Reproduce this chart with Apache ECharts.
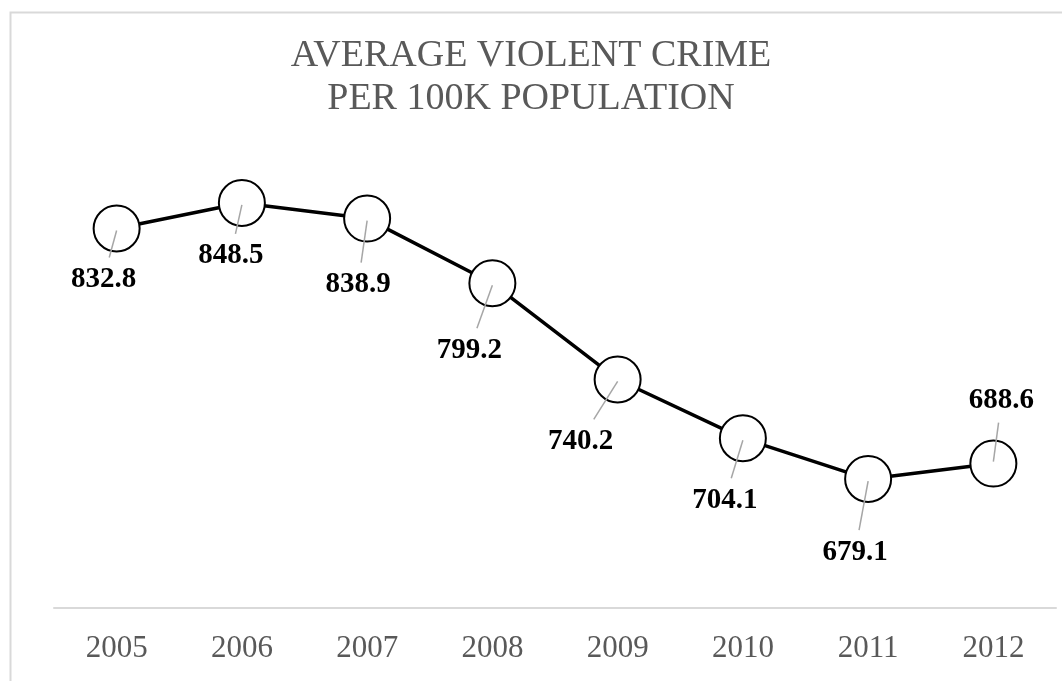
<!DOCTYPE html>
<html>
<head>
<meta charset="utf-8">
<style>
  html, body { margin: 0; padding: 0; background: #fff; }
  #container { width: 1062px; height: 681px; }
</style>
<script src="https://cdn.jsdelivr.net/npm/echarts@6/dist/echarts.min.js"></script>
</head>
<body>
<div id="container"></div>
<script>
var years = ["2005", "2006", "2007", "2008", "2009", "2010", "2011", "2012"];
var crimeRate = [832.8, 848.5, 838.9, 799.2, 740.2, 704.1, 679.1, 688.6];
// where each value label sits, relative to its marker
var labelShift = [[-13, 51], [-11, 53], [-9, 66], [-23, 67], [-37, 62], [-18, 62], [-13, 73], [8, -63]];

var serif = "'Liberation Serif', 'Times New Roman', serif";

var dom = document.getElementById("container");
var myChart = echarts.init(dom, null, { renderer: "canvas" });

// gray leader line from the marker centre towards its label
function renderLeader(params, api) {
    var c = api.coord([api.value(0), api.value(1)]);
    var s = labelShift[params.dataIndex];
    var k = 1 - 22 / Math.abs(s[1]);
    return {
        type: "line",
        shape: { x1: c[0], y1: c[1] + 2 * Math.sign(s[1]), x2: c[0] + s[0] * k, y2: c[1] + s[1] * k },
        style: { stroke: "#a6a6a6", lineWidth: 1.5 }
    };
}

var option = {
    animation: false,
    title: {
        text: "AVERAGE VIOLENT CRIME\nPER 100K POPULATION",
        left: "center",
        top: 30,
        textStyle: {
            fontFamily: serif,
            fontSize: 38,
            fontWeight: "normal",
            color: "#595959",
            lineHeight: 43
        }
    },
    graphic: [
        {
            type: "rect",
            left: 8,
            top: 10,
            shape: { width: 1100, height: 700 },
            style: { fill: "none", stroke: "#d9d9d9", lineWidth: 2 },
            silent: true
        }
    ],
    grid: {
        left: 54,
        right: 6,
        top: 119,
        bottom: 73,
        containLabel: false
    },
    xAxis: {
        type: "category",
        data: years,
        boundaryGap: true,
        axisLine: { lineStyle: { color: "#d9d9d9", width: 2 } },
        axisTick: { show: false },
        axisLabel: {
            margin: 25,
            fontFamily: serif,
            fontSize: 31,
            color: "#595959"
        }
    },
    yAxis: {
        type: "value",
        min: 600,
        max: 900,
        show: false,
        splitLine: { show: false }
    },
    series: [
        {
            type: "line",
            data: crimeRate,
            symbol: "circle",
            symbolSize: 46,
            lineStyle: { color: "#000", width: 3.5 },
            itemStyle: { color: "#fff", borderColor: "#000", borderWidth: 2 },
            label: {
                show: true,
                position: "inside",
                fontFamily: serif,
                fontSize: 29,
                fontWeight: "bold",
                color: "#000",
                formatter: function (p) { return p.value.toFixed(1); }
            },
            labelLayout: function (p) {
                var s = labelShift[p.dataIndex];
                return { dx: s[0], dy: s[1] };
            },
            z: 3
        },
        {
            type: "custom",
            data: crimeRate.map(function (v, i) { return [i, v]; }),
            renderItem: renderLeader,
            silent: true,
            z: 4
        }
    ]
};

myChart.setOption(option);
window.addEventListener("resize", myChart.resize);
</script>
</body>
</html>
